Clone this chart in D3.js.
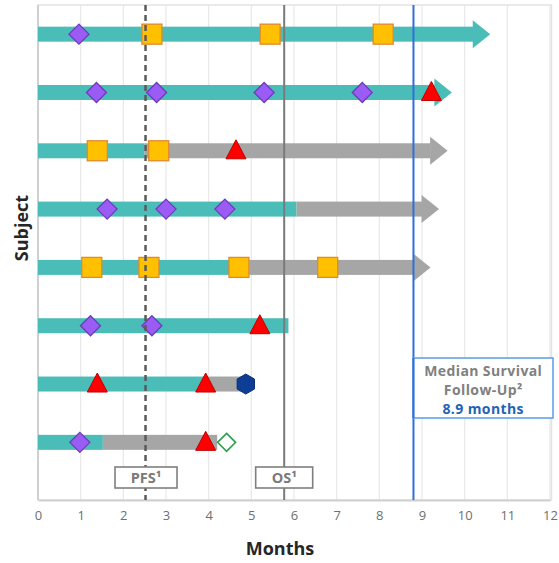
<!DOCTYPE html>
<html>
<head>
<meta charset="utf-8">
<script src="https://cdn.jsdelivr.net/npm/d3@7"></script>
<style>
  html, body { margin: 0; padding: 0; background: #fff; }
  svg { display: block; font-family: "Open Sans", "Noto Sans", sans-serif; }
</style>
</head>
<body>
<svg id="chart" width="559" height="563"></svg>
<script>
// ---------- DATA ----------
const subjects = [1, 2, 3, 4, 5, 6, 7, 8];
const tealEnd  = [10.6, 9.7, 2.5, 6.06, 4.95, 5.87, 3.9, 1.52];
const barEnd   = [10.6, 9.7, 9.6, 9.4, 9.2, 5.87, 4.87, 4.2];
const ongoing  = [true, true, true, true, true, false, false, false];
const diamonds = [[0.96], [1.37, 2.78, 5.3, 7.6], [], [1.62, 3.0, 4.38], [], [1.23, 2.67], [], [0.98]];
const squares  = [[2.67, 5.44, 8.09], [], [1.39, 2.83], [], [1.26, 2.6, 4.71, 6.79], [], [], []];
const triangles = [[], [9.22], [4.64], [], [], [5.2], [1.39, 3.93], [3.93]];
const hexagons = [[], [], [], [], [], [], [4.87], []];
const openDiamonds = [[], [], [], [], [], [], [], [4.42]];
const xTicks = [0, 1, 2, 3, 4, 5, 6, 7, 8, 9, 10, 11, 12];
const pfsMedian = 2.52;
const osMedian = 5.77;
const followUpLine = 8.8;
const followUpLabel = ["Median Survival", "Follow-Up²", "8.9 months"];

// ---------- SCALES ----------
const svg = d3.select("#chart");
const x = d3.scaleLinear().domain([0, 12]).range([38, 550]);
const y = d3.scaleBand().domain(subjects).range([5, 471.5]).padding(0);
const cy = i => y(subjects[i]) + y.bandwidth() / 2;
const plotTop = 5, plotBottom = 500;

// grid
svg.append("g").selectAll("line").data(xTicks.slice(1)).join("line")
  .attr("x1", d => x(d)).attr("x2", d => x(d))
  .attr("y1", plotTop).attr("y2", plotBottom)
  .attr("stroke", "#e8e8e8").attr("stroke-width", 1.2);

// frame
svg.append("rect").attr("x", x(0)).attr("y", plotTop)
  .attr("width", x(12) - x(0) + 1.5).attr("height", plotBottom - plotTop)
  .attr("fill", "none").attr("stroke", "#e3e3e3").attr("stroke-width", 1.5);

// axis
const axis = d3.axisBottom(x).tickValues(xTicks).tickSize(0).tickPadding(11);
const ag = svg.append("g").attr("transform", `translate(0,${plotBottom})`).call(axis);
ag.select(".domain").attr("stroke", "#d0d0d0").attr("stroke-width", 2);
ag.selectAll("text").attr("fill", "#6f6f6f").attr("font-size", 13).attr("font-family", "\"Open Sans\", sans-serif");
// left axis line
svg.append("line").attr("x1", x(0)).attr("x2", x(0)).attr("y1", plotTop).attr("y2", plotBottom)
  .attr("stroke", "#d0d0d0").attr("stroke-width", 2);

// ---------- BARS ----------
const barH = 15, headLen = 17, headH = 28;
const teal = "#4bbdb8", grey = "#a6a6a6";
const bars = svg.append("g");
subjects.forEach((s, i) => {
  const yc = cy(i);
  const endX = x(barEnd[i]) - (ongoing[i] ? headLen : 0);
  const tX = Math.min(x(tealEnd[i]), endX);
  bars.append("rect").attr("x", x(0)).attr("y", yc - barH / 2)
    .attr("width", tX - x(0)).attr("height", barH).attr("fill", teal);
  if (endX > tX) {
    bars.append("rect").attr("x", tX).attr("y", yc - barH / 2)
      .attr("width", endX - tX).attr("height", barH).attr("fill", grey);
  }
  if (ongoing[i]) {
    const tip = x(barEnd[i]);
    const col = tealEnd[i] >= barEnd[i] ? teal : grey;
    bars.append("path")
      .attr("d", `M${endX - 0.5},${yc - headH / 2} L${tip},${yc} L${endX - 0.5},${yc + headH / 2} Z`)
      .attr("fill", col);
  }
});

// ---------- MARKERS ----------
const mk = svg.append("g");
subjects.forEach((s, i) => {
  const yc = cy(i);
  squares[i].forEach(v => {
    mk.append("rect").attr("x", x(v) - 10).attr("y", yc - 10).attr("width", 20).attr("height", 20)
      .attr("fill", "#ffc000").attr("stroke", "#e0892e").attr("stroke-width", 1.3);
  });
  diamonds[i].forEach(v => {
    mk.append("path").attr("d", `M${x(v)},${yc - 10} L${x(v) + 10},${yc} L${x(v)},${yc + 10} L${x(v) - 10},${yc} Z`)
      .attr("fill", "#9b5cf5").attr("stroke", "#6a3db8").attr("stroke-width", 1.3);
  });
  triangles[i].forEach(v => {
    mk.append("path").attr("d", `M${x(v)},${yc - 11} L${x(v) + 10},${yc + 8} L${x(v) - 10},${yc + 8} Z`)
      .attr("fill", "#ff0000").attr("stroke", "#c00000").attr("stroke-width", 1);
  });
  hexagons[i].forEach(v => {
    const r = 10;
    const pts = d3.range(6).map(k => {
      const a = Math.PI / 6 + k * Math.PI / 3;
      return [x(v) + r * Math.cos(a), yc + r * Math.sin(a)];
    });
    mk.append("path").attr("d", "M" + pts.map(p => p.join(",")).join("L") + "Z")
      .attr("fill", "#0d3d94").attr("stroke", "#0a2f70").attr("stroke-width", 1);
  });
  openDiamonds[i].forEach(v => {
    mk.append("path").attr("d", `M${x(v)},${yc - 9} L${x(v) + 9},${yc} L${x(v)},${yc + 9} L${x(v) - 9},${yc} Z`)
      .attr("fill", "#ffffff").attr("stroke", "#2e9e4f").attr("stroke-width", 1.6);
  });
});

// ---------- REFERENCE LINES (drawn over the bars and markers) ----------
svg.append("line").attr("x1", x(pfsMedian)).attr("x2", x(pfsMedian))
  .attr("y1", plotTop).attr("y2", plotBottom)
  .attr("stroke", "#5a5a5a").attr("stroke-width", 2.5).attr("stroke-dasharray", "6,4");
svg.append("line").attr("x1", x(osMedian)).attr("x2", x(osMedian))
  .attr("y1", plotTop).attr("y2", plotBottom)
  .attr("stroke", "#7a7a7a").attr("stroke-width", 2);
svg.append("line").attr("x1", x(followUpLine)).attr("x2", x(followUpLine))
  .attr("y1", plotTop).attr("y2", plotBottom)
  .attr("stroke", "#2f6fd8").attr("stroke-width", 2);

// ---------- LABEL BOXES ----------
function labelBox(cx, w, text) {
  const g = svg.append("g");
  g.append("rect").attr("x", cx - w / 2).attr("y", 467).attr("width", w).attr("height", 21)
    .attr("fill", "#fff").attr("stroke", "#7f7f7f").attr("stroke-width", 1.6);
  g.append("text").attr("x", cx).attr("y", 483).attr("text-anchor", "middle")
    .attr("font-size", 14.5).attr("font-weight", 700).attr("fill", "#7a7a7a").text(text);
}
labelBox(x(pfsMedian) + 0.5, 62, "PFS¹");
labelBox(x(osMedian), 57, "OS¹");

// median follow-up box
const bx = x(followUpLine), bw = 553 - bx;
svg.append("rect").attr("x", bx).attr("y", 358).attr("width", bw).attr("height", 60)
  .attr("fill", "#fff").attr("stroke", "#5b9be6").attr("stroke-width", 1.5);
svg.append("line").attr("x1", bx).attr("x2", bx).attr("y1", 358).attr("y2", 418)
  .attr("stroke", "#2f6fd8").attr("stroke-width", 2);
const bcx = bx + bw / 2;
[["#808080", 376], ["#808080", 395], ["#1f64b4", 414]].forEach(([col, yy], k) => {
  svg.append("text").attr("x", bcx).attr("y", yy).attr("text-anchor", "middle")
    .attr("font-size", 14).attr("letter-spacing", 0.4).attr("font-weight", 700)
    .attr("fill", col).text(followUpLabel[k]);
});

// ---------- AXIS TITLES ----------
svg.append("text").attr("x", 280).attr("y", 555).attr("text-anchor", "middle")
  .attr("font-size", 18).attr("font-weight", 700).attr("fill", "#262626").text("Months");
svg.append("text").attr("transform", "translate(28,228) rotate(-90)").attr("text-anchor", "middle")
  .attr("font-size", 18).attr("font-weight", 700).attr("fill", "#262626").text("Subject");
</script>
</body>
</html>
